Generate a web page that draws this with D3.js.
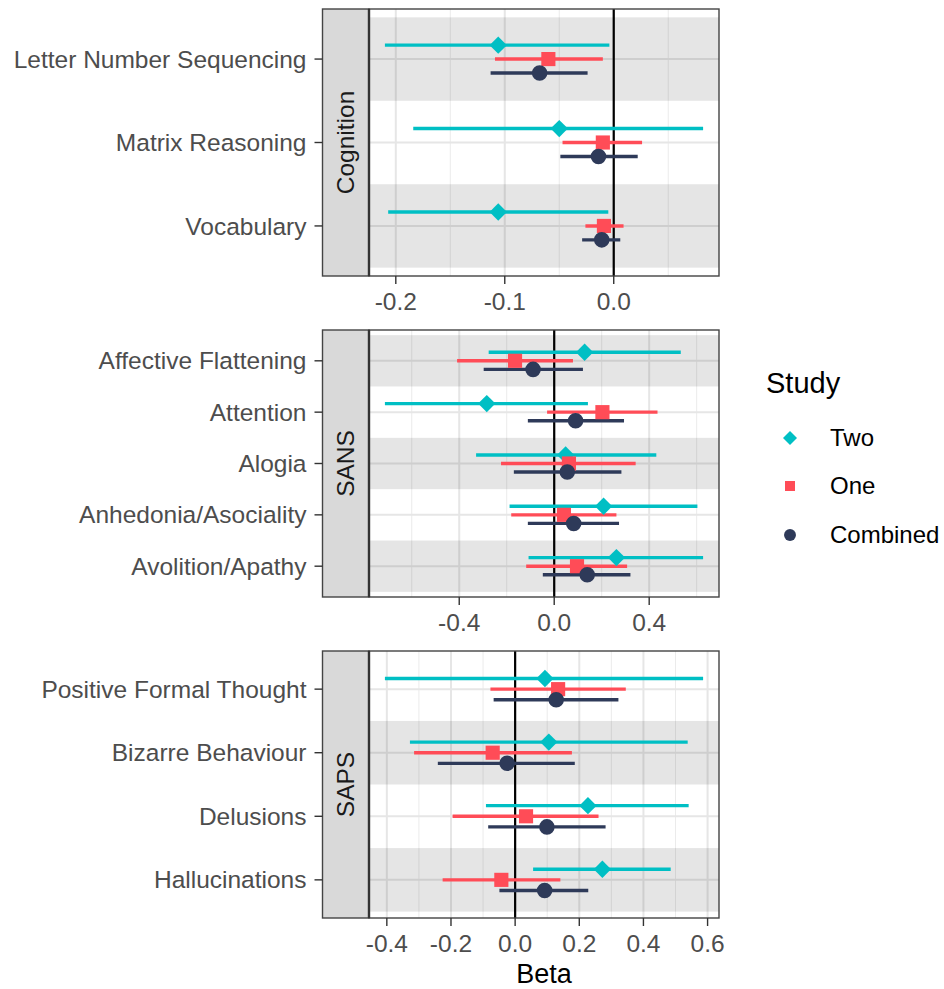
<!DOCTYPE html>
<html>
<head>
<meta charset="utf-8">
<script src="https://cdnjs.cloudflare.com/ajax/libs/d3/7.8.5/d3.min.js"></script>
<style>
  body { margin: 0; background: #fff; }
  svg text { font-family: "Liberation Sans", Arial, Helvetica, sans-serif; }
</style>
</head>
<body>
<svg id="chart" width="944" height="989"></svg>
<script>
const studies = ["Two", "One", "Combined"];
const studyColors = ["#00BFC4", "#FF4C57", "#2E3A59"];
const panelNames = ["Cognition", "SANS", "SAPS"];

const cognitionMeasures = ["Letter Number Sequencing", "Matrix Reasoning", "Vocabulary"];
const sansMeasures = ["Affective Flattening", "Attention", "Alogia", "Anhedonia/Asociality", "Avolition/Apathy"];
const sapsMeasures = ["Positive Formal Thought", "Bizarre Behaviour", "Delusions", "Hallucinations"];

// [lower, beta, upper] per measure
const cognitionTwo = [[-0.210, -0.106, -0.004], [-0.184, -0.050, 0.082], [-0.207, -0.106, -0.005]];
const cognitionOne = [[-0.109, -0.060, -0.010], [-0.047, -0.010, 0.026], [-0.026, -0.009, 0.009]];
const cognitionCombined = [[-0.113, -0.068, -0.024], [-0.049, -0.014, 0.022], [-0.029, -0.011, 0.006]];

const sansTwo = [[-0.276, 0.128, 0.533], [-0.713, -0.284, 0.142], [-0.329, 0.048, 0.430], [-0.188, 0.208, 0.603], [-0.108, 0.262, 0.627]];
const sansOne = [[-0.409, -0.165, 0.079], [-0.030, 0.203, 0.435], [-0.224, 0.062, 0.343], [-0.181, 0.041, 0.262], [-0.118, 0.096, 0.307]];
const sansCombined = [[-0.297, -0.089, 0.121], [-0.111, 0.090, 0.294], [-0.170, 0.055, 0.283], [-0.111, 0.082, 0.273], [-0.048, 0.139, 0.321]];

const sapsTwo = [[-0.406, 0.093, 0.586], [-0.328, 0.105, 0.538], [-0.091, 0.227, 0.541], [0.056, 0.272, 0.485]];
const sapsOne = [[-0.077, 0.134, 0.345], [-0.315, -0.070, 0.177], [-0.195, 0.034, 0.260], [-0.226, -0.043, 0.141]];
const sapsCombined = [[-0.067, 0.128, 0.322], [-0.241, -0.025, 0.186], [-0.084, 0.099, 0.282], [-0.049, 0.092, 0.228]];

const cognitionTicks = [-0.2, -0.1, 0.0];
const sansTicks = [-0.4, 0.0, 0.4];
const sapsTicks = [-0.4, -0.2, 0.0, 0.2, 0.4, 0.6];
const cognitionMinor = [-0.15, -0.05, 0.05];
const sansMinor = [-0.6, -0.2, 0.2, 0.6];
const sapsMinor = [-0.3, -0.1, 0.1, 0.3, 0.5];

const panels = [
    {name: panelNames[0], measures: cognitionMeasures, series: [cognitionTwo, cognitionOne, cognitionCombined], ticks: cognitionTicks, minor: cognitionMinor},
    {name: panelNames[1], measures: sansMeasures, series: [sansTwo, sansOne, sansCombined], ticks: sansTicks, minor: sansMinor},
    {name: panelNames[2], measures: sapsMeasures, series: [sapsTwo, sapsOne, sapsCombined], ticks: sapsTicks, minor: sapsMinor}
];

const stripLeft = 322.5, panelLeft = 369, panelRight = 719,
      panelTops = [9, 330, 651], panelHeight = 267,
      dodge = 0.167;

const svg = d3.select("#chart");
const fmt = d => d3.format(".1f")(d).replace("\u2212", "-");

const shapes = [
    s => ({d: d3.symbol().type(d3.symbolSquare).size(s.diamond)(), rot: 45}),
    s => ({d: d3.symbol().type(d3.symbolSquare).size(s.square)(), rot: 0}),
    s => ({d: d3.symbol().type(d3.symbolCircle).size(s.circle)(), rot: 0})
];

panels.forEach(function (panel, p) {
    const top = panelTops[p], bottom = top + panelHeight;
    const n = panel.measures.length;

    let all = [];
    panel.series.forEach(s => s.forEach(v => { all.push(v[0]); all.push(v[2]); }));
    const ext = d3.extent(all), pad = (ext[1] - ext[0]) * 0.05;

    const x = d3.scaleLinear().domain([ext[0] - pad, ext[1] + pad]).range([panelLeft, panelRight]);
    // measure i (from top) sits at position n - i counted from the bottom
    const y = d3.scaleLinear().domain([0.4, n + 0.6]).range([bottom, top]);
    const pos = i => n - i;

    const g = svg.append("g");

    // grid lines
    g.selectAll(".minor").data(panel.minor).enter().append("line")
        .attr("x1", d => x(d)).attr("x2", d => x(d))
        .attr("y1", top).attr("y2", bottom)
        .attr("stroke", "#ebebeb").attr("stroke-width", 1);
    g.selectAll(".major").data(panel.ticks).enter().append("line")
        .attr("x1", d => x(d)).attr("x2", d => x(d))
        .attr("y1", top).attr("y2", bottom)
        .attr("stroke", "#e6e6e6").attr("stroke-width", 2);
    g.selectAll(".hgrid").data(panel.measures).enter().append("line")
        .attr("x1", panelLeft).attr("x2", panelRight)
        .attr("y1", (d, i) => y(pos(i))).attr("y2", (d, i) => y(pos(i)))
        .attr("stroke", "#e6e6e6").attr("stroke-width", 2);

    // alternating bands, odd positions from the bottom are shaded
    const shaded = panel.measures.map((d, i) => pos(i)).filter(v => v % 2 === 1);
    g.selectAll(".band").data(shaded).enter().append("rect")
        .attr("x", panelLeft).attr("width", panelRight - panelLeft)
        .attr("y", d => y(d + 0.5))
        .attr("height", d => y(d - 0.5) - y(d + 0.5))
        .attr("fill", "rgba(0,0,0,0.1)");

    // zero line
    g.append("line")
        .attr("x1", x(0)).attr("x2", x(0)).attr("y1", top).attr("y2", bottom)
        .attr("stroke", "#000").attr("stroke-width", 2.2);

    // error bars
    panel.series.forEach(function (s, k) {
        const off = dodge * (1 - k);
        g.selectAll(null).data(s).enter().append("line")
            .attr("x1", d => x(d[0])).attr("x2", d => x(d[2]))
            .attr("y1", (d, i) => y(pos(i) + off)).attr("y2", (d, i) => y(pos(i) + off))
            .attr("stroke", studyColors[k]).attr("stroke-width", 3.4);
    });
    // points
    panel.series.forEach(function (s, k) {
        const off = dodge * (1 - k);
        const sh = shapes[k]({diamond: 150, square: 200, circle: 190});
        g.selectAll(null).data(s).enter().append("path")
            .attr("d", sh.d)
            .attr("transform", (d, i) => "translate(" + x(d[1]) + "," + y(pos(i) + off) + ") rotate(" + sh.rot + ")")
            .attr("fill", studyColors[k]);
    });

    // strip
    g.append("rect")
        .attr("x", stripLeft).attr("y", top)
        .attr("width", panelLeft - stripLeft).attr("height", panelHeight)
        .attr("fill", "#d9d9d9").attr("stroke", "#444").attr("stroke-width", 1.4);
    g.append("text")
        .attr("transform", "translate(" + ((stripLeft + panelLeft) / 2) + "," + (top + panelHeight / 2) + ") rotate(-90)")
        .attr("dy", "0.35em")
        .attr("text-anchor", "middle")
        .attr("font-size", "24.5px")
        .attr("fill", "#1a1a1a")
        .text(panel.name);

    // panel border
    g.append("rect")
        .attr("x", panelLeft).attr("y", top)
        .attr("width", panelRight - panelLeft).attr("height", panelHeight)
        .attr("fill", "none").attr("stroke", "#444").attr("stroke-width", 1.4);
    g.append("line")
        .attr("x1", panelLeft).attr("x2", panelLeft).attr("y1", top).attr("y2", bottom)
        .attr("stroke", "#333").attr("stroke-width", 2.4);

    // x axis
    g.selectAll(".xtick").data(panel.ticks).enter().append("line")
        .attr("x1", d => x(d)).attr("x2", d => x(d))
        .attr("y1", bottom).attr("y2", bottom + 8)
        .attr("stroke", "#333").attr("stroke-width", 1.4);
    g.selectAll(".xlab").data(panel.ticks).enter().append("text")
        .attr("x", d => x(d)).attr("y", bottom + 34)
        .attr("text-anchor", "middle")
        .attr("font-size", "24.5px")
        .attr("fill", "#4d4d4d")
        .text(fmt);

    // y axis
    g.selectAll(".ytick").data(panel.measures).enter().append("line")
        .attr("x1", stripLeft - 8).attr("x2", stripLeft)
        .attr("y1", (d, i) => y(pos(i))).attr("y2", (d, i) => y(pos(i)))
        .attr("stroke", "#333").attr("stroke-width", 1.4);
    g.selectAll(".ylab").data(panel.measures).enter().append("text")
        .attr("x", stripLeft - 16).attr("y", (d, i) => y(pos(i)))
        .attr("dy", "0.35em")
        .attr("text-anchor", "end")
        .attr("font-size", "24.5px")
        .attr("fill", "#4d4d4d")
        .text(d => d);
});

// x axis title
svg.append("text")
    .attr("x", (panelLeft + panelRight) / 2).attr("y", 983)
    .attr("text-anchor", "middle")
    .attr("font-size", "27px")
    .attr("fill", "#000")
    .text("Beta");

// legend
const legend = svg.append("g");
legend.append("text")
    .attr("x", 766).attr("y", 393)
    .attr("font-size", "29px")
    .attr("fill", "#000")
    .text("Study");
const legendY = [438, 486, 535];
studies.forEach(function (s, k) {
    const sh = shapes[k]({diamond: 98, square: 100, circle: 112});
    legend.append("path")
        .attr("d", sh.d)
        .attr("transform", "translate(790," + legendY[k] + ") rotate(" + sh.rot + ")")
        .attr("fill", studyColors[k]);
    legend.append("text")
        .attr("x", 830).attr("y", legendY[k])
        .attr("dy", "0.35em")
        .attr("font-size", "24px")
        .attr("fill", "#000")
        .text(s);
});
</script>
</body>
</html>
